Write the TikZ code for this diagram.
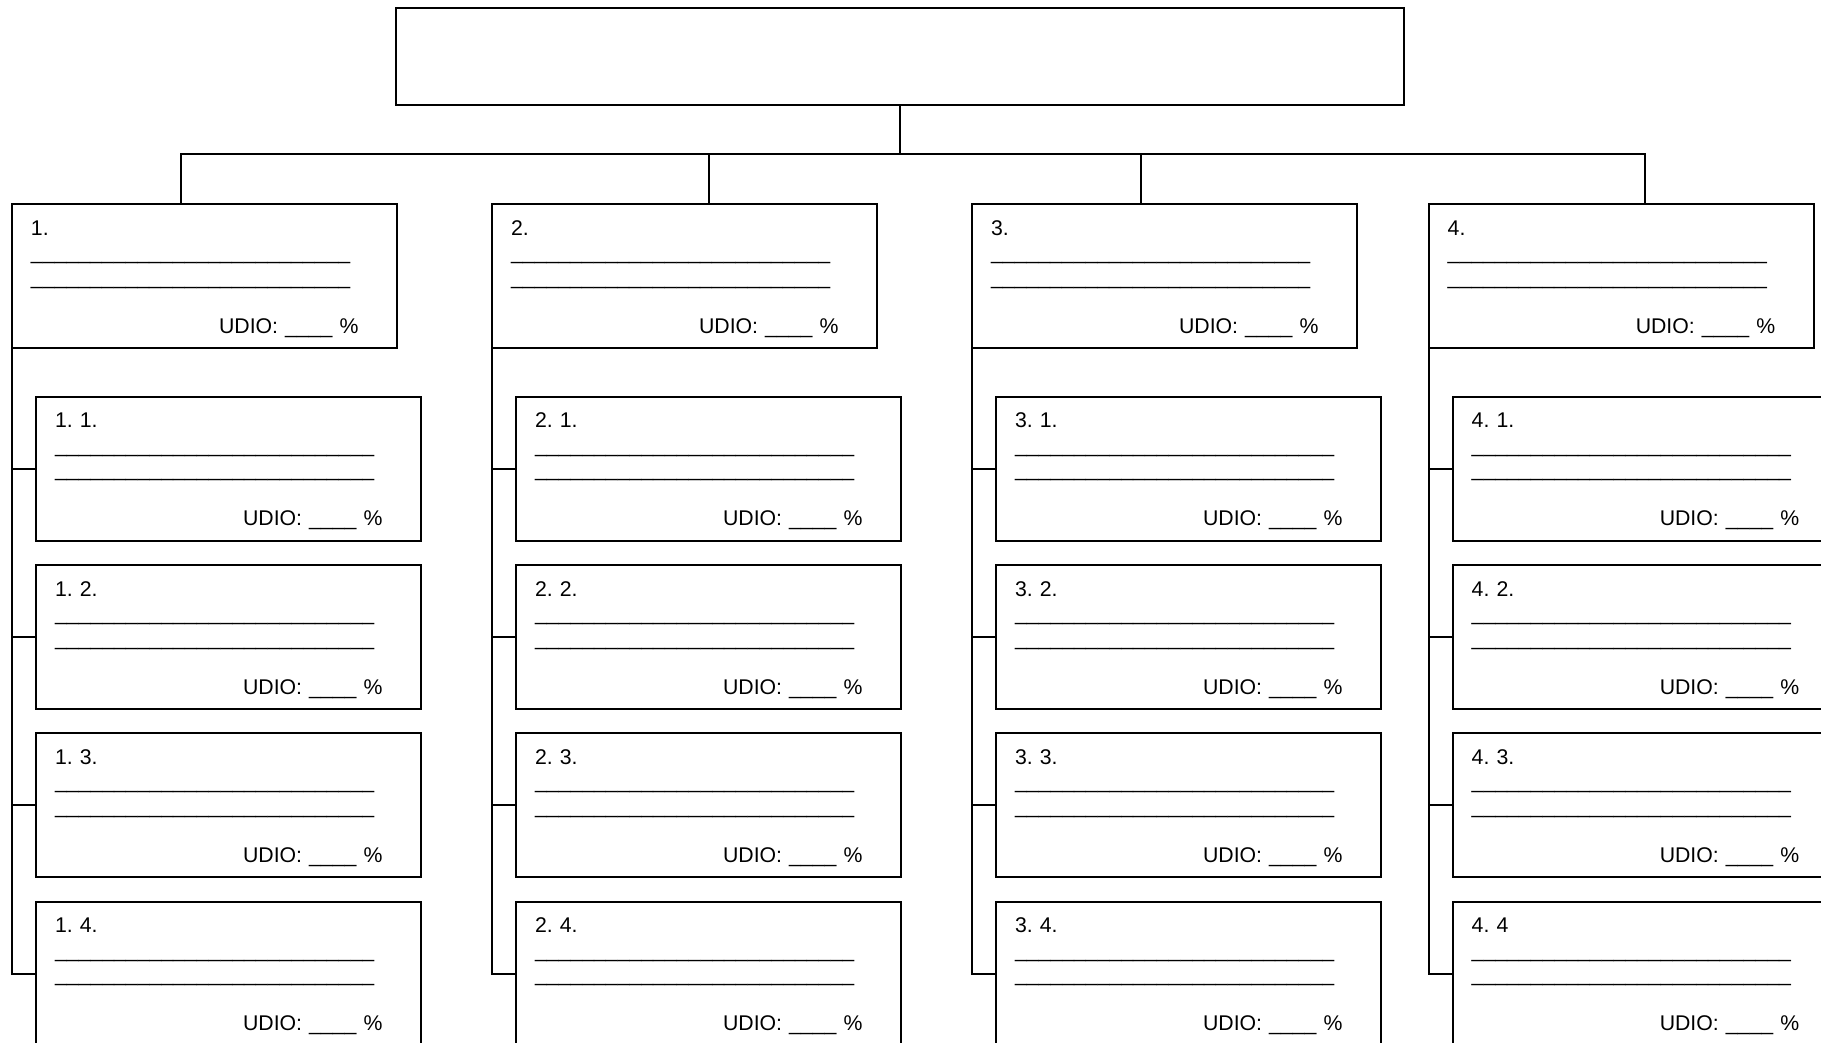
\documentclass[tikz,border=0pt]{standalone}
\usepackage{fontspec}
\setmainfont{Liberation Sans}
\usepackage{tikz}
\usetikzlibrary{positioning}
\frenchspacing
\newcommand{\fillline}{\_\_\_\_\_\_\_\_\_\_\_\_\_\_\_\_\_\_\_\_\_\_\_\_\_\_\_}
\newcommand{\udio}{\mbox{}\hfill UDIO: \_\_\_\_ \%\rule{1.95mm}{0pt}}
\newcommand{\task}[1]{#1\\ \fillline\\ \fillline\\[6.97pt] \udio}

\begin{document}
\begin{tikzpicture}[
  font=\fontsize{6.05pt}{6.97pt}\selectfont,
  node distance=2.44mm and 9.5mm,
  box/.style={draw, line width=0.2mm, outer sep=0pt, text width=34.7mm,
              inner xsep=1.9mm, inner ysep=0pt, text height=3.1mm,
              text depth=11.3mm, align=left},
  head/.style={draw, line width=0.2mm, outer sep=0pt, inner sep=0pt,
               minimum width=100.8mm, minimum height=9.7mm},
  link/.style={line width=0.2mm}
]
  \useasboundingbox (0,0) rectangle (18.21,-10.43);

  \node[head] (top) at (9.0,-0.565) {};

  \node[box, anchor=north west] (n1) at (0.12,-2.043) {\task{1.}};
  \node[box, right=of n1] (n2) {\task{2.}};
  \node[box, right=of n2] (n3) {\task{3.}};
  \node[box, right=7.17mm of n3] (n4) {\task{4.}};

  \node[box, below=4.84mm of n1.south west, anchor=north west, xshift=2.4mm] (n11) {\task{1. 1.}};
  \node[box, below=of n11] (n12) {\task{1. 2.}};
  \node[box, below=of n12] (n13) {\task{1. 3.}};
  \node[box, below=of n13] (n14) {\task{1. 4.}};

  \node[box, below=4.84mm of n2.south west, anchor=north west, xshift=2.4mm] (n21) {\task{2. 1.}};
  \node[box, below=of n21] (n22) {\task{2. 2.}};
  \node[box, below=of n22] (n23) {\task{2. 3.}};
  \node[box, below=of n23] (n24) {\task{2. 4.}};

  \node[box, below=4.84mm of n3.south west, anchor=north west, xshift=2.4mm] (n31) {\task{3. 1.}};
  \node[box, below=of n31] (n32) {\task{3. 2.}};
  \node[box, below=of n32] (n33) {\task{3. 3.}};
  \node[box, below=of n33] (n34) {\task{3. 4.}};

  \node[box, below=4.84mm of n4.south west, anchor=north west, xshift=2.4mm] (n41) {\task{4. 1.}};
  \node[box, below=of n41] (n42) {\task{4. 2.}};
  \node[box, below=of n42] (n43) {\task{4. 3.}};
  \node[box, below=of n43] (n44) {\task{4. 4}};

  \draw[link] (top.south) -- ++(0,-0.495) -| ([xshift=-2.4mm]n1.north);
  \draw[link] (top.south) -- ++(0,-0.495) -| ([xshift=2.4mm]n2.north);
  \draw[link] (top.south) -- ++(0,-0.495) -| ([xshift=-2.4mm]n3.north);
  \draw[link] (top.south) -- ++(0,-0.495) -| ([xshift=2.4mm]n4.north);

  \draw[link] (n1.south west) |- (n11.west);
  \draw[link] (n1.south west) |- (n12.west);
  \draw[link] (n1.south west) |- (n13.west);
  \draw[link] (n1.south west) |- (n14.west);
  \draw[link] (n2.south west) |- (n21.west);
  \draw[link] (n2.south west) |- (n22.west);
  \draw[link] (n2.south west) |- (n23.west);
  \draw[link] (n2.south west) |- (n24.west);
  \draw[link] (n3.south west) |- (n31.west);
  \draw[link] (n3.south west) |- (n32.west);
  \draw[link] (n3.south west) |- (n33.west);
  \draw[link] (n3.south west) |- (n34.west);
  \draw[link] (n4.south west) |- (n41.west);
  \draw[link] (n4.south west) |- (n42.west);
  \draw[link] (n4.south west) |- (n43.west);
  \draw[link] (n4.south west) |- (n44.west);
\end{tikzpicture}
\end{document}
